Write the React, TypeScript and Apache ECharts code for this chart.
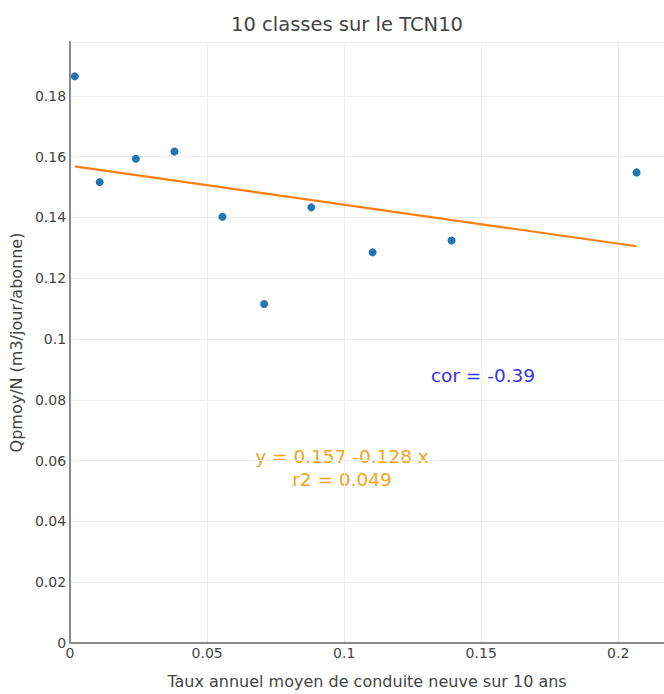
import React, { useEffect, useRef } from "react";
import * as echarts from "echarts";

const pointsX = [0.0017, 0.0108, 0.024, 0.0381, 0.0556, 0.0708, 0.088, 0.1104, 0.1392, 0.2067];
const pointsY = [0.1864, 0.1516, 0.1593, 0.1617, 0.1402, 0.1115, 0.1433, 0.1285, 0.1324, 0.1548];
const fitX = [0.0017, 0.2067];
const fitY = [0.1568, 0.1305];
const titleText = "10 classes sur le TCN10";
const xTitle = "Taux annuel moyen de conduite neuve sur 10 ans";
const yTitle = "Qpmoy/N (m3/jour/abonne)";
const corText = "cor = -0.39";
const eqText = "y = 0.157 -0.128 x";
const r2Text = "r2 = 0.049";

const FONT = "DejaVu Sans, Verdana, sans-serif";

export default function App() {
  const ref = useRef<HTMLDivElement>(null);
  useEffect(() => {
    if (!ref.current) return;
    const chart = echarts.init(ref.current, undefined, { renderer: "svg" });
    const fmt = (v: number) => String(+v.toFixed(3));
    chart.setOption({
      animation: false,
      backgroundColor: "#fff",
      textStyle: { fontFamily: FONT },
      title: {
        text: titleText,
        left: 342,
        top: 9,
        textAlign: "center",
        textStyle: { fontFamily: FONT, fontSize: 19.5, fontWeight: "normal", color: "#444" },
      },
      grid: { left: 68, right: 0, top: 42, bottom: 44, containLabel: false },
      xAxis: {
        type: "value",
        min: 0,
        max: 0.2167,
        interval: 0.05,
        axisLine: { show: true, onZero: false, lineStyle: { color: "#8a8a8a", width: 2 } },
        axisTick: { show: false },
        splitLine: { show: true, lineStyle: { color: "#eee", width: 1 } },
        axisLabel: { color: "#444", fontSize: 14, fontFamily: FONT, margin: 3, formatter: fmt, showMaxLabel: false },
        name: xTitle,
        nameLocation: "middle",
        nameGap: 30,
        nameTextStyle: { color: "#444", fontSize: 16, fontFamily: FONT },
      },
      yAxis: {
        type: "value",
        min: 0,
        max: 0.1977,
        interval: 0.02,
        axisLine: { show: true, onZero: false, lineStyle: { color: "#8a8a8a", width: 2 } },
        axisTick: { show: false },
        splitLine: { show: true, lineStyle: { color: "#eee", width: 1 } },
        axisLabel: { color: "#444", fontSize: 14, fontFamily: FONT, margin: 4, formatter: fmt, showMaxLabel: false },
        name: yTitle,
        nameLocation: "middle",
        nameGap: 45,
        nameTextStyle: { color: "#444", fontSize: 16, fontFamily: FONT },
      },
      series: [
        {
          type: "scatter",
          data: pointsX.map((x, i) => [x, pointsY[i]]),
          symbolSize: 8,
          itemStyle: { color: "#1f77b4", opacity: 1 },
          z: 3,
        },
        {
          type: "line",
          data: fitX.map((x, i) => [x, fitY[i]]),
          showSymbol: false,
          symbol: "none",
          lineStyle: { color: "#ff7f0e", width: 2.2 },
          z: 2,
        },
      ],
      graphic: [
        {
          type: "text",
          x: 483,
          y: 375,
          style: { text: corText, fill: "#3333f5", font: `18.5px ${FONT}`, align: "center", verticalAlign: "middle" },
        },
        {
          type: "text",
          x: 342,
          y: 456,
          style: { text: eqText, fill: "#f7a11a", font: `18.5px ${FONT}`, align: "center", verticalAlign: "middle" },
        },
        {
          type: "text",
          x: 342,
          y: 479,
          style: { text: r2Text, fill: "#f7a11a", font: `18.5px ${FONT}`, align: "center", verticalAlign: "middle" },
        },
      ],
    });
    return () => chart.dispose();
  }, []);
  return <div ref={ref} style={{ width: 664, height: 694, position: "absolute", left: 0, top: 0 }} />;
}
